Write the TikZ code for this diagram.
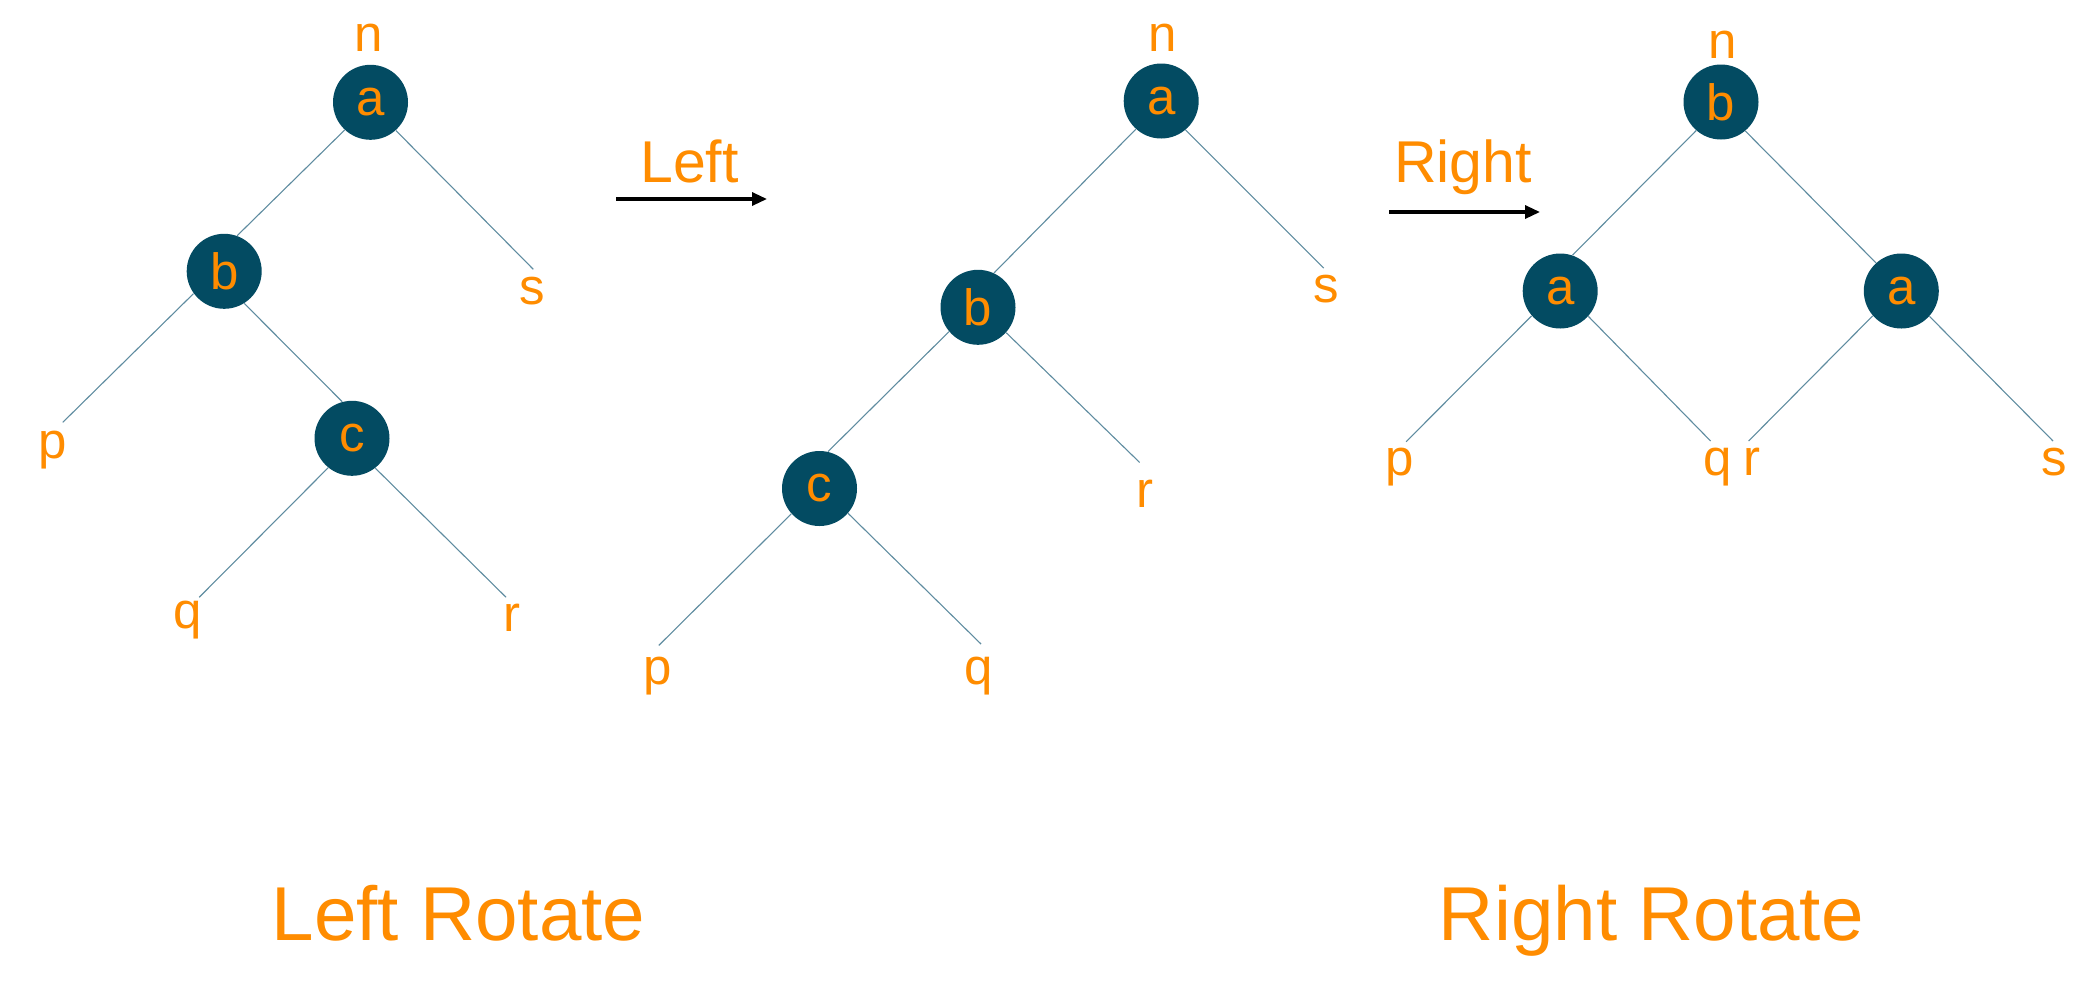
\documentclass[tikz,border=0pt]{standalone}
\usepackage{fontspec}
\setmainfont{Liberation Sans}
\usetikzlibrary{arrows.meta}
\definecolor{orn}{RGB}{255,140,0}
\definecolor{tnode}{RGB}{3,75,98}
\definecolor{edgec}{RGB}{95,140,160}
\begin{document}
\begin{tikzpicture}[x=0.5pt,y=-0.5pt,
  tn/.style={circle,fill=tnode,minimum size=37.5pt,inner sep=0pt,text=orn,font=\fontsize{25.5}{30}\selectfont},
  lf/.style={anchor=base,text=orn,inner sep=0pt,font=\fontsize{25.5}{30}\selectfont},
  ed/.style={draw=edgec,line width=0.55pt},
  arr/.style={draw=black,line width=1.6pt,-{Triangle[length=7.5pt,width=6.5pt]}},
  lbl/.style={anchor=base,text=orn,inner sep=0pt,font=\fontsize{29.5}{35}\selectfont},
  ttl/.style={anchor=base,text=orn,inner sep=0pt,font=\fontsize{38.2}{46}\selectfont}]
\useasboundingbox (0,0) rectangle (2099,981);
% ---------- tree 1 ----------
\node[tn] (a1) at (370.5,102.3) {a};
\node[tn] (b1) at (224.2,271.3) {b};
\node[tn] (c1) at (352,438.3) {c};
\node[lf] (n1) at (369,51) {n};
\node[lf] (s1) at (532,304) {s};
\node[lf] (p1) at (52.4,458) {p};
\node[lf] (q1) at (187.5,628) {q};
\node[lf] (r1) at (511.5,631) {r};
\coordinate (s1e) at (533.3,269.3);
\coordinate (p1e) at (62.8,422.3);
\coordinate (q1e) at (199.2,597.3);
\coordinate (r1e) at (506.1,597.3);
\draw[ed] (a1.227) -- (b1.70);
\draw[ed] (a1.312) -- (s1e);
\draw[ed] (b1.216) -- (p1e);
\draw[ed] (b1.302) -- (c1.105);
\draw[ed] (c1.231) -- (q1e);
\draw[ed] (c1.308) -- (r1e);
% ---------- arrow Left ----------
\node[lbl] (lt) at (689.5,182) {Left};
\coordinate (L0) at (616,199);
\coordinate (L1) at (767,199);
\draw[arr] (L0) -- (L1);
% ---------- tree 2 ----------
\node[tn] (a2) at (1161.2,101) {a};
\node[tn] (b2) at (978,307.3) {b};
\node[tn] (c2) at (819.5,488.5) {c};
\node[lf] (n2) at (1162.8,51.5) {n};
\node[lf] (s2) at (1325.8,302) {s};
\node[lf] (r2) at (1145,507) {r};
\node[lf] (p2) at (657.3,684) {p};
\node[lf] (q2) at (978.7,684) {q};
\coordinate (s2e) at (1323.8,268.1);
\coordinate (r2e) at (1139.6,462.4);
\coordinate (p2e) at (658.8,645.4);
\coordinate (q2e) at (981.1,644.1);
\draw[ed] (a2.228.6) -- (b2.65.3);
\draw[ed] (a2.310) -- (s2e);
\draw[ed] (b2.220.3) -- (c2.77.8);
\draw[ed] (b2.318.6) -- (r2e);
\draw[ed] (c2.222) -- (p2e);
\draw[ed] (c2.319.8) -- (q2e);
% ---------- arrow Right ----------
\node[lbl] (rt) at (1463,182) {Right};
\coordinate (R0) at (1389,212);
\coordinate (R1) at (1540,212);
\draw[arr] (R0) -- (R1);
% ---------- tree 3 ----------
\node[tn] (b3) at (1721,102) {b};
\node[tn] (aL) at (1560.2,291) {a};
\node[tn] (aR) at (1901.3,291) {a};
\node[lf] (n3) at (1722.8,58) {n};
\node[lf] (p3) at (1400,475) {p};
\node[lf] (q3) at (1717.5,475) {q};
\node[lf] (r3) at (1752,475) {r};
\node[lf] (s3) at (2054,475) {s};
\coordinate (p3e) at (1406.1,441.7);
\coordinate (q3e) at (1710.6,441);
\coordinate (r3e) at (1748.6,441);
\coordinate (s3e) at (2053,441);
\draw[ed] (b3.229) -- (aL.71);
\draw[ed] (b3.310) -- (aR.132);
\draw[ed] (aL.221) -- (p3e);
\draw[ed] (aL.318) -- (q3e);
\draw[ed] (aR.221) -- (r3e);
\draw[ed] (aR.318) -- (s3e);
% ---------- titles ----------
\node[ttl] (t1) at (458.5,940) {Left Rotate};
\node[ttl] (t2) at (1651.3,940) {Right Rotate};
\end{tikzpicture}
\end{document}
